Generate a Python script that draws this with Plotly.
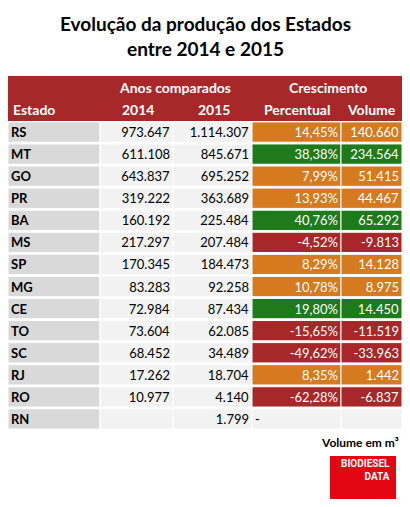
import plotly.graph_objects as go

estados = ['RS', 'MT', 'GO', 'PR', 'BA', 'MS', 'SP', 'MG', 'CE', 'TO', 'SC', 'RJ', 'RO', 'RN']
v2014 = ['973.647', '611.108', '643.837', '319.222', '160.192', '217.297', '170.345',
         '83.283', '72.984', '73.604', '68.452', '17.262', '10.977', '']
v2015 = ['1.114.307', '845.671', '695.252', '363.689', '225.484', '207.484', '184.473',
         '92.258', '87.434', '62.085', '34.489', '18.704', '4.140', '1.799']
percentual = [14.45, 38.38, 7.99, 13.93, 40.76, -4.52, 8.29, 10.78, 19.80, -15.65, -49.62, 8.35, -62.28, None]
volume = ['140.660', '234.564', '51.415', '44.467', '65.292', '-9.813', '14.128',
          '8.975', '14.450', '-11.519', '-33.963', '1.442', '-6.837', '']

RED = '#A8282A'
ORANGE = '#D57A1F'
GREEN = '#1E7A1A'
FONT = 'Lato'

# page has an 8px body margin, so the figure is a bit smaller than the window;
# positions below are given in window pixels and converted
W, H = 394, 491


def px(x):
    return (x - 8) / W


def py(y):
    return 1 - (y - 8) / H


def growth_color(p):
    if p is None:
        return '#F2F2F2'
    if p < 0:
        return RED
    if p > 15:
        return GREEN
    return ORANGE


pct_text = ['-' if p is None else f'{p:.2f}%'.replace('.', ',') for p in percentual]
grow_fill = [growth_color(p) for p in percentual]
n = len(estados)

# column (left, right) edges in window pixels
cols = [(8, 100), (100, 173), (173, 252), (252, 341), (341, 402)]
columns = [
    (['<b>%s</b>' % e for e in estados], ['#D9D9D9'] * n, ['black'] * n, ['start'] * n),
    (v2014, ['#F2F2F2'] * n, ['black'] * n, ['end'] * n),
    (v2015, ['#F2F2F2'] * n, ['black'] * n, ['end'] * n),
    (pct_text, grow_fill, ['black' if p is None else 'white' for p in percentual],
     ['start' if p is None else 'end' for p in percentual]),
    (volume, grow_fill, ['white'] * n, ['end'] * n),
]

fig = go.Figure()
for (x0, x1), (text, fill, color, anchors) in zip(cols, columns):
    for anchor in ('start', 'end'):
        rows = [i for i in range(n) if anchors[i] == anchor]
        if not rows:
            continue
        fig.add_trace(go.Bar(
            y=[estados[i] for i in rows], x=[x1 - x0] * len(rows), base=[x0] * len(rows),
            orientation='h',
            marker=dict(color=[fill[i] for i in rows], line=dict(color='white', width=1)),
            text=[text[i] for i in rows], textposition='inside', insidetextanchor=anchor,
            textangle=0, constraintext='none',
            textfont=dict(family=FONT, size=13, color=[color[i] for i in rows]),
            hoverinfo='skip', showlegend=False,
        ))

fig.update_xaxes(range=[8, 402], visible=False, fixedrange=True)
fig.update_yaxes(autorange='reversed', visible=False, fixedrange=True,
                 categoryorder='array', categoryarray=estados,
                 domain=[py(430), py(121)])

fig.add_shape(type='rect', xref='paper', yref='paper', x0=0, x1=1, y0=py(121), y1=py(76),
              fillcolor=RED, line_width=0)
headers = [
    ('Anos comparados', 175, 87, 'center'), ('Crescimento', 328, 87, 'center'),
    ('Estado', 11, 109, 'left'), ('2014', 138, 109, 'center'), ('2015', 214, 109, 'center'),
    ('Percentual', 297, 109, 'center'), ('Volume', 371, 109, 'center'),
]
for txt, x, y, anchor in headers:
    fig.add_annotation(x=px(x), y=py(y), xref='paper', yref='paper', xanchor=anchor,
                       yanchor='middle', text='<b>%s</b>' % txt, showarrow=False,
                       font=dict(family=FONT, size=14, color='white'))

fig.add_annotation(x=px(205), y=py(36), xref='paper', yref='paper', yanchor='middle',
                   text='<b>Evolução da produção dos Estados<br>entre 2014 e 2015</b>',
                   showarrow=False, font=dict(family=FONT, size=19, color='black'))
fig.add_annotation(x=px(401), y=py(442), xref='paper', yref='paper', xanchor='right',
                   yanchor='middle', text='<b>Volume em m³</b>', showarrow=False,
                   font=dict(family=FONT, size=12, color='black'))
fig.add_shape(type='rect', xref='paper', yref='paper', x0=px(330), x1=px(396),
              y0=py(500), y1=py(456), fillcolor='#E30613', line_width=0)
fig.add_annotation(x=px(392), y=py(470), xref='paper', yref='paper', xanchor='right',
                   yanchor='middle', text='<b>BIODIESEL<br>DATA</b>', align='right',
                   showarrow=False, font=dict(family='Roboto', size=10, color='white'))

fig.update_layout(width=W, height=H, margin=dict(l=0, r=0, t=0, b=0), bargap=0.08,
                  barmode='overlay', paper_bgcolor='white', plot_bgcolor='white')
fig.write_html('out.html')
